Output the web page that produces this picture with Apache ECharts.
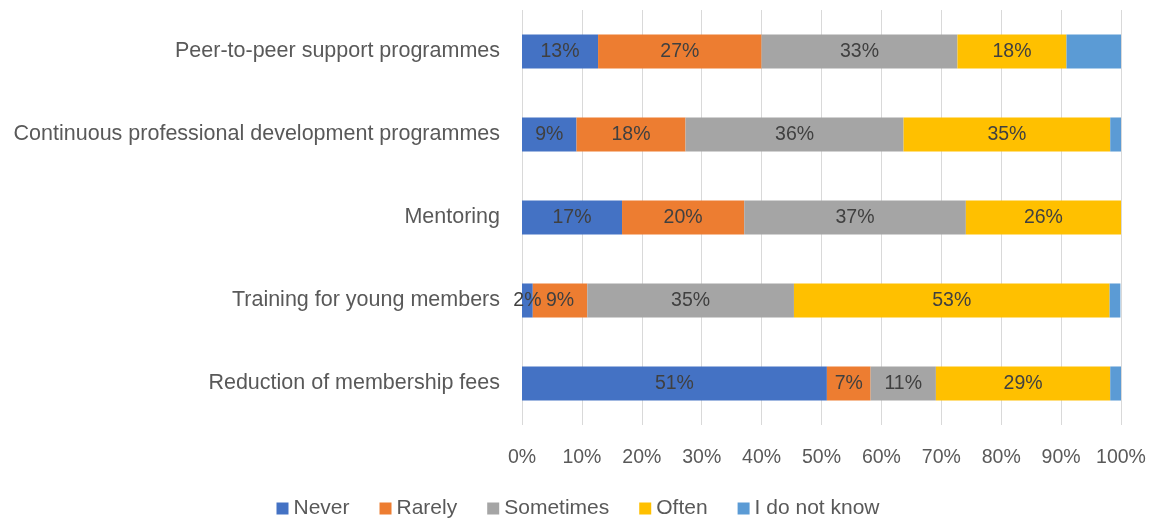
<!DOCTYPE html>
<html>
<head>
<meta charset="utf-8">
<script src="https://cdn.jsdelivr.net/npm/echarts@6/dist/echarts.min.js"></script>
<style>
  html, body { margin: 0; padding: 0; background: #fff; }
  #chart { width: 1156px; height: 519px; }
</style>
</head>
<body>
<div id="chart"></div>
<script>
var categories = ["Peer-to-peer support programmes", "Continuous professional development programmes",
  "Mentoring", "Training for young members", "Reduction of membership fees"];
var seriesNames = ["Never", "Rarely", "Sometimes", "Often", "I do not know"];
var colors = ["#4472C4", "#ED7D31", "#A5A5A5", "#FFC000", "#5B9BD5"];

// percentages (top to bottom)
var never = [12.7, 9.1, 16.7, 1.8, 50.9];
var rarely = [27.3, 18.2, 20.4, 9.1, 7.3];
var sometimes = [32.7, 36.4, 37.0, 34.5, 10.9];
var often = [18.2, 34.5, 25.9, 52.7, 29.1];
var dontKnow = [9.1, 1.8, 0, 1.8, 1.8];

var xTicks = { min: 0, max: 100, interval: 10 };

var chart = echarts.init(document.getElementById("chart"));
var font = "Liberation Sans";
var allValues = [never, rarely, sometimes, often, dontKnow];

var series = [];
for (var i = 0; i < seriesNames.length; i++) {
  series.push({
    name: seriesNames[i],
    type: "bar",
    stack: "total",
    barCategoryGap: "59%",
    data: allValues[i],
    itemStyle: { color: colors[i] },
    label: {
      show: i < 4, // last series has no labels
      position: "inside",
      color: "#404040",
      fontFamily: font,
      fontSize: 19.5,
      formatter: function (p) { return Math.round(p.value) + "%"; }
    }
  });
}

chart.setOption({
  animation: false,
  textStyle: { fontFamily: font },
  grid: { left: 522, right: 35, top: 10, bottom: 94, containLabel: false },
  legend: {
    top: 493,
    left: "center",
    itemWidth: 12,
    itemHeight: 12,
    itemGap: 30,
    icon: "rect",
    textStyle: { color: "#595959", fontSize: 21, fontFamily: font }
  },
  xAxis: {
    type: "value",
    min: xTicks.min,
    max: xTicks.max,
    interval: xTicks.interval,
    axisLine: { show: false },
    axisTick: { show: false },
    splitLine: { lineStyle: { color: "#d9d9d9", width: 1 } },
    axisLabel: { formatter: "{value}%", color: "#595959", fontSize: 19.5, fontFamily: font, margin: 23 }
  },
  yAxis: {
    type: "category",
    inverse: true,
    data: categories,
    axisLine: { show: false },
    axisTick: { show: false },
    axisLabel: { color: "#595959", fontSize: 21.5, fontFamily: font, margin: 22 }
  },
  series: series
});
</script>
</body>
</html>
